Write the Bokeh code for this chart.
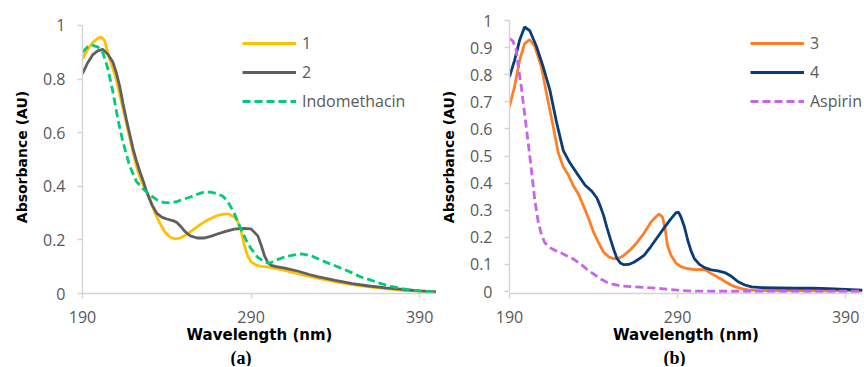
from bokeh.plotting import figure
from bokeh.models import (FixedTicker, CustomJSTickFormatter, Legend, LegendItem, Title)
from bokeh.layouts import row
from bokeh.embed import file_html
from bokeh.resources import INLINE

# ---------------- data (a) ----------------
wl_1 = [190,193,196,199,201,203,206,208,210,212,214,216,218,220,222,224,226,228,230,233,236,239,242,245,248,251,255,260,265,270,274,277,280,282,284,286,288,290,293,296,300,310,320,330,340,350,360,370,380,390,400]
abs_1 = [0.875,0.91,0.935,0.952,0.957,0.945,0.877,0.84,0.80,0.745,0.69,0.635,0.58,0.525,0.475,0.435,0.405,0.38,0.355,0.30,0.262,0.228,0.21,0.204,0.207,0.217,0.235,0.258,0.277,0.291,0.296,0.296,0.285,0.27,0.235,0.18,0.14,0.118,0.106,0.101,0.099,0.086,0.07,0.056,0.043,0.033,0.025,0.018,0.012,0.009,0.006]

wl_2 = [190,193,196,199,202,205,208,210,212,214,216,218,220,222,224,226,228,231,234,237,240,244,246,248,251,254,258,262,266,270,275,280,285,290,292,294,296,298,300,302,305,310,318,325,330,340,350,360,370,380,390,400]
abs_2 = [0.82,0.86,0.89,0.905,0.911,0.893,0.864,0.825,0.775,0.71,0.65,0.595,0.54,0.495,0.455,0.42,0.38,0.333,0.3,0.285,0.278,0.271,0.265,0.252,0.23,0.215,0.207,0.207,0.213,0.222,0.232,0.24,0.243,0.241,0.228,0.215,0.18,0.14,0.115,0.105,0.1,0.095,0.083,0.07,0.062,0.049,0.037,0.028,0.021,0.015,0.01,0.006]

wl_indo = [190,193,196,199,202,205,208,211,214,218,222,226,230,234,238,242,246,250,254,258,262,266,270,273,276,280,284,287,290,294,298,301,305,310,315,320,326,332,338,344,350,355,361,367,373,379,385,391,400]
abs_indo = [0.90,0.92,0.926,0.92,0.90,0.84,0.753,0.65,0.565,0.475,0.418,0.39,0.368,0.35,0.34,0.338,0.343,0.352,0.36,0.37,0.378,0.378,0.372,0.364,0.345,0.30,0.24,0.2,0.167,0.135,0.117,0.113,0.125,0.137,0.143,0.148,0.14,0.123,0.108,0.093,0.077,0.062,0.05,0.037,0.027,0.019,0.013,0.009,0.005]

# ---------------- data (b) ----------------
wl_3 = [190,193,196,199,202,205,209,212,216,219,222,225,228,231,234,237,240,243,246,249,252,255,258,262,266,270,274,277,279,281,282.5,284,286,289,292,296,300,304,307,310,313,316,320,324,328,332,336,345,360,380,400]
abs_3 = [0.683,0.756,0.853,0.915,0.929,0.905,0.829,0.731,0.609,0.512,0.46,0.43,0.39,0.36,0.316,0.27,0.219,0.18,0.145,0.128,0.121,0.123,0.133,0.155,0.182,0.215,0.255,0.275,0.286,0.275,0.235,0.17,0.135,0.105,0.092,0.084,0.081,0.082,0.078,0.066,0.056,0.045,0.03,0.018,0.011,0.006,0.004,0.003,0.003,0.002,0.002]

wl_4 = [190,193,196,199,202,206,210,214,218,222,226,230,235,239,242,244,246,248,250,252,254,256,258,261,264,267,270,274,278,282,286,289,290.5,292,294,296,298,300,303,306,310,314,318,322,326,330,334,340,350,360,370,380,390,400]
abs_4 = [0.792,0.853,0.927,0.976,0.963,0.905,0.83,0.744,0.624,0.52,0.474,0.437,0.392,0.37,0.345,0.315,0.28,0.235,0.194,0.155,0.121,0.105,0.099,0.1,0.108,0.12,0.133,0.165,0.2,0.235,0.268,0.29,0.293,0.275,0.24,0.19,0.15,0.121,0.1,0.088,0.08,0.076,0.07,0.056,0.036,0.024,0.017,0.014,0.013,0.012,0.012,0.011,0.008,0.005]

wl_asp = [190,192,194,195,197,199,201,203,205,207,209,211,214,217,220,224,228,232,236,240,244,248,252,256,262,270,280,290,296,310,330,360,400]
abs_asp = [0.933,0.925,0.89,0.84,0.756,0.655,0.555,0.45,0.34,0.26,0.21,0.18,0.162,0.152,0.145,0.132,0.12,0.103,0.082,0.065,0.047,0.034,0.026,0.021,0.018,0.015,0.011,0.005,0.002,0.001,0.001,0.001,0.001]

x_ticks = [190, 290, 390]
y_ticks_a = [0, 0.2, 0.4, 0.6, 0.8, 1]
y_ticks_b = [0, 0.1, 0.2, 0.3, 0.4, 0.5, 0.6, 0.7, 0.8, 0.9, 1]

TICK_FONT = "Open Sans"
LABEL_FONT = "DejaVu Sans"
GRAY = "#595959"
AXIS_COL = "#d4d4d4"
H = 366


def make_fig(width, border_left, border_right, y_range, yticks):
    p = figure(width=width, height=H, x_range=(190, 400), y_range=y_range,
               output_backend="svg", toolbar_location=None,
               min_border_left=border_left, min_border_right=border_right,
               min_border_top=20, min_border_bottom=71)
    p.outline_line_color = None
    p.xgrid.grid_line_color = None
    p.ygrid.grid_line_color = None
    p.background_fill_color = "white"
    p.border_fill_color = "white"
    for ax in (p.xaxis[0], p.yaxis[0]):
        ax.axis_line_color = AXIS_COL
        ax.axis_line_width = 1.4
        ax.major_tick_line_color = AXIS_COL
        ax.major_tick_line_width = 1.4
        ax.major_tick_in = 0
        ax.major_tick_out = 5
        ax.minor_tick_line_color = None
        ax.major_label_text_font = TICK_FONT
        ax.major_label_text_font_size = "16px"
        ax.major_label_text_color = GRAY
        ax.major_label_standoff = 12
        ax.axis_label_text_font = LABEL_FONT
        ax.axis_label_text_font_style = "bold"
        ax.axis_label_text_color = "black"
    p.xaxis[0].ticker = FixedTicker(ticks=x_ticks)
    p.yaxis[0].ticker = FixedTicker(ticks=yticks)
    p.yaxis[0].bounds = (0, 1)
    p.yaxis[0].formatter = CustomJSTickFormatter(code="return String(Math.round(tick*10)/10);")
    p.xaxis[0].axis_label = "Wavelength (nm)"
    p.xaxis[0].axis_label_text_font_size = "15px"
    p.xaxis[0].axis_label_standoff = 0
    p.yaxis[0].axis_label = "Absorbance (AU)"
    p.yaxis[0].axis_label_text_font_size = "14px"
    p.yaxis[0].axis_label_standoff = 10
    return p


def add_legend(p, items, loc):
    lg = Legend(items=items, location=loc)
    lg.label_text_font = TICK_FONT
    lg.label_text_font_size = "16px"
    lg.label_text_color = GRAY
    lg.glyph_width = 54
    lg.glyph_height = 22
    lg.label_height = 22
    lg.label_standoff = 6
    lg.spacing = 7
    lg.padding = 0
    lg.margin = 0
    lg.border_line_alpha = 0
    lg.background_fill_alpha = 0
    p.add_layout(lg)


def add_caption(p, text, offset):
    t = Title(text=text, align="left", offset=offset, standoff=-2,
              text_font="Liberation Serif", text_font_style="bold",
              text_font_size="18px", text_color="black")
    p.add_layout(t, "below")


# ---------- panel (a) ----------
pa = make_fig(436, 82, 0, (0, 275 / 270), y_ticks_a)
r1 = pa.line(wl_1, abs_1, line_color="#FFC000", line_width=2.8)
r2 = pa.line(wl_2, abs_2, line_color="#5f5f5f", line_width=2.8)
ri = pa.line(wl_indo, abs_indo, line_color="#00CC77", line_width=2.8, line_dash="8 4")
add_legend(pa, [LegendItem(label="1", renderers=[r1]),
                LegendItem(label="2", renderers=[r2]),
                LegendItem(label="Indomethacin", renderers=[ri])], (160, 181))
add_caption(pa, "(a)", 148)

# ---------- panel (b) ----------
pb = make_fig(428, 73, 2, (-2 / 273, 1.0), y_ticks_b)
r3 = pb.line(wl_3, abs_3, line_color="#FF7F27", line_width=2.8)
r4 = pb.line(wl_4, abs_4, line_color="#0B3C7A", line_width=2.8)
ra = pb.line(wl_asp, abs_asp, line_color="#C864E8", line_width=2.8, line_dash="8 4")
add_legend(pb, [LegendItem(label="3", renderers=[r3]),
                LegendItem(label="4", renderers=[r4]),
                LegendItem(label="Aspirin", renderers=[ra])], (241, 181))
add_caption(pb, "(b)", 154)

layout = row(pa, pb)
open("out.html", "w").write(file_html(layout, INLINE))
